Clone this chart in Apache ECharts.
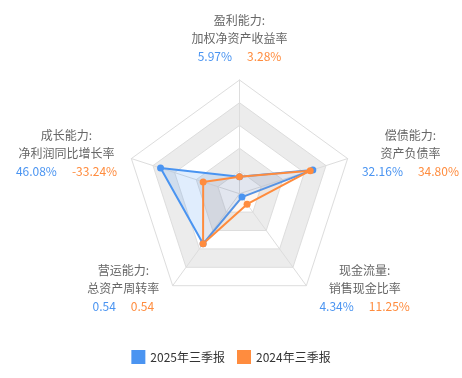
<!DOCTYPE html>
<html>
<head>
<meta charset="utf-8">
<script src="https://cdn.jsdelivr.net/npm/echarts@6/dist/echarts.min.js"></script>
<style>
  html, body { margin: 0; padding: 0; background: #fff; }
  #radar { width: 462px; height: 378px; }
</style>
</head>
<body>
<div id="radar"></div>
<script>
// 指标名称（从顶部开始逆时针）
var indicatorTitles = ['盈利能力:', '成长能力:', '营运能力:', '现金流量:', '偿债能力:']
var indicatorSubs = ['加权净资产收益率', '净利润同比增长率', '总资产周转率', '销售现金比率', '资产负债率']
// 显示的原始值
var text2025 = ['5.97%', '46.08%', '0.54', '4.34%', '32.16%']
var text2024 = ['3.28%', '-33.24%', '0.54', '11.25%', '34.80%']
// 雷达图上的评分（0~1）
var score2025 = [0.15, 0.73, 0.545, 0.037, 0.678]
var score2024 = [0.15, 0.336, 0.545, 0.114, 0.654]
var seriesNames = ['2025年三季报', '2024年三季报']

var blue = '#4a94f1'
var orange = '#ff8c3e'
var font = 'Noto Sans CJK SC'

// 量一下文字宽度，底部两个标签要往外挪一点
var ctx = document.createElement('canvas').getContext('2d')
ctx.font = '12px "' + font + '"'
function w(s) { return ctx.measureText(s).width }

var rich = {
    n: { color: '#666', fontSize: 12, lineHeight: 18, align: 'center', fontFamily: font },
    a: { color: blue, fontSize: 12, lineHeight: 18, align: 'center', fontFamily: font },
    s: { width: 15, align: 'center' },
    b: { color: orange, fontSize: 12, lineHeight: 18, align: 'center', fontFamily: font }
}

var indicator = []
for (var i = 0; i < indicatorTitles.length; i++) {
    var name = '{n|' + indicatorTitles[i] + '}\n{n|' + indicatorSubs[i] + '}\n{a|' + text2025[i] + '}{s|}{b|' + text2024[i] + '}'
    if (i == 2 || i == 3) {
        var maxW = Math.max(w(indicatorTitles[i]), w(indicatorSubs[i]), w(text2025[i]) + 15 + w(text2024[i]))
        name += '\n{p' + i + '|}'
        rich['p' + i] = { width: Math.round(maxW + 9), lineHeight: 18, align: 'center' }
    }
    indicator.push({ name: name, min: 0, max: 1 })
}

var myChart = echarts.init(document.getElementById('radar'))

var option = {
    backgroundColor: '#fff',
    color: [blue, orange],
    legend: {
        bottom: 9,
        left: 'center',
        itemWidth: 14,
        itemHeight: 14,
        itemGap: 12,
        icon: 'rect',
        textStyle: { color: '#333', fontSize: 12, fontFamily: font },
        data: seriesNames
    },
    radar: {
        center: [239.5, 193.7],
        radius: 113.7,
        startAngle: 90,
        splitNumber: 5,
        shape: 'polygon',
        nameGap: 15,
        axisName: {
            color: '#666',
            fontSize: 12,
            lineHeight: 18,
            fontFamily: font,
            rich: rich
        },
        axisLine: { lineStyle: { color: '#ddd' } },
        splitLine: { lineStyle: { color: '#ddd' } },
        splitArea: { show: true, areaStyle: { color: ['#fff', '#ececec'] } },
        indicator: indicator
    },
    series: [{
        type: 'radar',
        symbol: 'circle',
        symbolSize: 7,
        data: [{
            name: seriesNames[0],
            value: score2025,
            lineStyle: { color: blue, width: 2 },
            itemStyle: { color: blue },
            areaStyle: { color: 'rgba(74,148,241,0.24)' }
        }, {
            name: seriesNames[1],
            value: score2024,
            lineStyle: { color: orange, width: 2 },
            itemStyle: { color: orange },
            areaStyle: { color: 'rgba(255,140,62,0.1)' }
        }]
    }]
}

myChart.setOption(option)
</script>
</body>
</html>
